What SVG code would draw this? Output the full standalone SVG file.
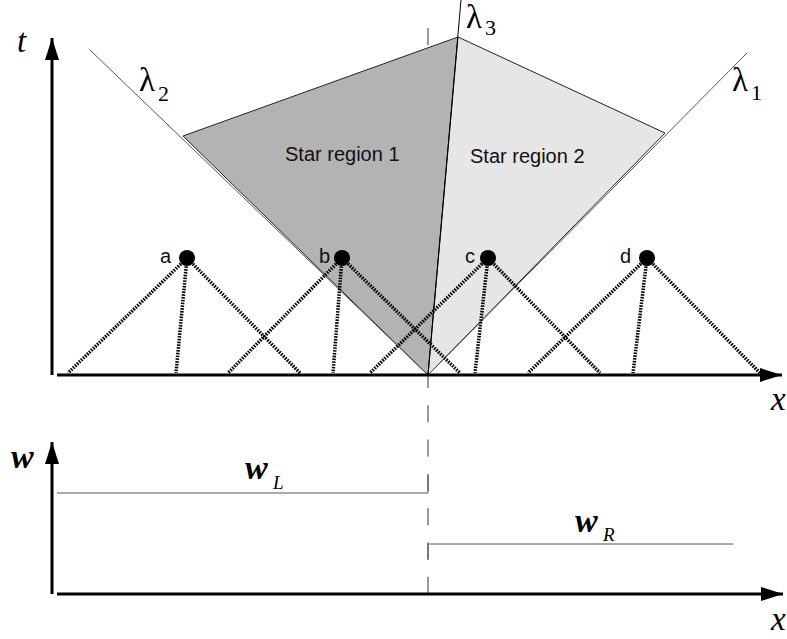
<svg xmlns="http://www.w3.org/2000/svg" width="787" height="639" viewBox="0 0 787 639">
<style>
.axis{stroke:#000;stroke-width:3;fill:none}
.thin{stroke:#000;stroke-width:1;fill:none}
.wave{stroke:#555;stroke-width:1;fill:none}
.dash{stroke:#333;stroke-width:1;stroke-dasharray:17 17.3;fill:none}
.dot{stroke:#000;stroke-width:3.5;stroke-dasharray:1.6 1.2;fill:none}
.lam{font-family:"Liberation Serif",serif;font-size:33px}
.sub{font-family:"Liberation Serif",serif;font-size:22px}
.lbl{font-family:"Liberation Sans",Arial,sans-serif;font-size:20px;fill:#111}
.var{font-family:"Liberation Serif",serif;font-style:italic;font-size:33px}
.bvar{font-family:"Liberation Serif",serif;font-style:italic;font-weight:bold;font-size:34px}
.isub{font-family:"Liberation Serif",serif;font-style:italic;font-size:19px}
</style>
<defs>
<marker id="arr" viewBox="0 0 22 14" refX="22" refY="7" markerWidth="22" markerHeight="14" markerUnits="userSpaceOnUse" orient="auto">
<path d="M0,0 L22,7 L0,14 Z" fill="#000"/>
</marker>
</defs>
<rect width="787" height="639" fill="#fff"/>
<g id="star-regions">
<polygon id="star-region-1" points="183,136 458,37 428,375" fill="#b3b3b3" stroke="#222" stroke-width="1"/>
<polygon id="star-region-2" points="458,37 665,133 428,375" fill="#e6e6e6" stroke="#222" stroke-width="1"/>
<text class="lbl" x="285" y="161">Star region 1</text>
<text class="lbl" x="470" y="163">Star region 2</text>
</g>
<g id="connectors">
<line class="wave" x1="90" y1="50" x2="428" y2="375"/>
<line class="wave" x1="747" y1="53" x2="428" y2="375"/>
<line class="thin" x1="461" y1="0" x2="428" y2="375"/>
<line class="dash" x1="428" y1="28" x2="428" y2="46"/>
<line class="dash" x1="428" y1="371" x2="428" y2="594"/>
<line class="dot" x1="187" y1="258" x2="68" y2="373"/>
<line class="dot" x1="187" y1="258" x2="176" y2="373"/>
<line class="dot" x1="187" y1="258" x2="300" y2="373"/>
<line class="dot" x1="342" y1="258" x2="228" y2="373"/>
<line class="dot" x1="342" y1="258" x2="333" y2="373"/>
<line class="dot" x1="342" y1="258" x2="460" y2="373"/>
<line class="dot" x1="488" y1="258" x2="370" y2="373"/>
<line class="dot" x1="488" y1="258" x2="475" y2="373"/>
<line class="dot" x1="488" y1="258" x2="600" y2="373"/>
<line class="dot" x1="647" y1="258" x2="528" y2="373"/>
<line class="dot" x1="647" y1="258" x2="633" y2="373"/>
<line class="dot" x1="647" y1="258" x2="760" y2="373"/>
<polyline class="wave" points="57,493 428,493 428,475"/>
<polyline class="wave" points="428,560 428,544 733,544"/>
</g>
<g id="wave-labels">
<text class="lam" x="139" y="91">λ</text><text class="sub" x="158" y="101">2</text>
<text class="lam" x="466" y="28">λ</text><text class="sub" x="485" y="35">3</text>
<text class="lam" x="732" y="91">λ</text><text class="sub" x="751" y="100">1</text>
</g>
<g id="point-a"><circle cx="187" cy="258" r="8"/><text class="lbl" x="160" y="263">a</text></g>
<g id="point-b"><circle cx="342" cy="258" r="8"/><text class="lbl" x="319" y="263">b</text></g>
<g id="point-c"><circle cx="488" cy="258" r="8"/><text class="lbl" x="465" y="263">c</text></g>
<g id="point-d"><circle cx="647" cy="258" r="8"/><text class="lbl" x="620" y="263">d</text></g>
<g id="axes-top">
<line class="axis" x1="52" y1="375" x2="52" y2="38" marker-end="url(#arr)"/>
<line class="axis" x1="57" y1="375" x2="782" y2="375" marker-end="url(#arr)"/>
<text class="var" x="17" y="52">t</text>
<text class="var" x="771" y="410">x</text>
</g>
<g id="axes-bottom">
<line class="axis" x1="52" y1="594" x2="52" y2="442" marker-end="url(#arr)"/>
<line class="axis" x1="57" y1="594" x2="783" y2="594" marker-end="url(#arr)"/>
<text class="bvar" x="11" y="468">w</text>
<text class="var" x="771" y="630">x</text>
<text class="bvar" x="245" y="479">w</text><text class="isub" x="273" y="489">L</text>
<text class="bvar" x="575" y="532">w</text><text class="isub" x="603" y="541">R</text>
</g>
</svg>
